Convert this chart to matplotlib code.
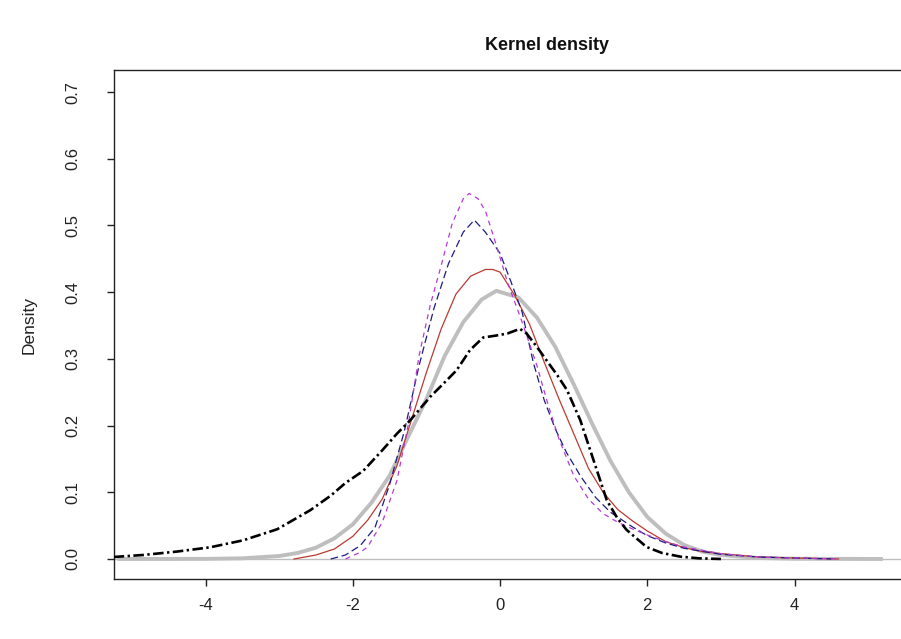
import matplotlib
matplotlib.use("Agg")
import matplotlib.pyplot as plt

# ---- data (x, density) ----
gray_x = [-5.2, -4.0, -3.5, -3.0, -2.75, -2.5, -2.25, -2.0, -1.75, -1.5, -1.25, -1.0, -0.75, -0.5, -0.25, -0.05,
          0.25, 0.5, 0.75, 1.0, 1.25, 1.5, 1.75, 2.0, 2.25, 2.5, 2.75, 3.0, 3.5, 4.0, 5.2]
gray_y = [0.0, 0.0002, 0.001, 0.0045, 0.009, 0.017, 0.031, 0.052, 0.084, 0.125, 0.183, 0.240, 0.305, 0.355, 0.389, 0.402,
          0.392, 0.362, 0.318, 0.262, 0.203, 0.147, 0.100, 0.063, 0.038, 0.021, 0.011, 0.006, 0.0015, 0.0004, 0.0]

red_x = [-2.8, -2.5, -2.25, -2.0, -1.8, -1.6, -1.4, -1.2, -1.0, -0.8, -0.6, -0.4, -0.2, -0.1, 0.0, 0.2, 0.4, 0.6,
         0.8, 1.0, 1.2, 1.4, 1.6, 1.8, 2.0, 2.25, 2.5, 2.75, 3.0, 3.5, 4.0, 4.6]
red_y = [0.0, 0.006, 0.015, 0.034, 0.058, 0.090, 0.140, 0.210, 0.280, 0.345, 0.397, 0.424, 0.434, 0.434, 0.430, 0.395,
         0.352, 0.295, 0.240, 0.188, 0.136, 0.100, 0.074, 0.057, 0.042, 0.026, 0.017, 0.011, 0.008, 0.003, 0.0015, 0.0]

blue_x = [-2.3, -2.1, -1.9, -1.7, -1.5, -1.3, -1.1, -0.9, -0.7, -0.5, -0.35, -0.2, 0.0, 0.15, 0.3, 0.45, 0.6, 0.75,
          0.9, 1.1, 1.3, 1.5, 1.8, 2.0, 2.25, 2.5, 3.0, 3.5, 4.5]
blue_y = [0.0, 0.006, 0.020, 0.047, 0.112, 0.192, 0.290, 0.375, 0.443, 0.490, 0.508, 0.490, 0.458, 0.415, 0.370, 0.295,
          0.238, 0.195, 0.160, 0.123, 0.092, 0.070, 0.048, 0.035, 0.024, 0.016, 0.007, 0.003, 0.0]

purple_x = [-2.1, -1.9, -1.8, -1.6, -1.4, -1.25, -1.1, -0.95, -0.8, -0.65, -0.5, -0.42, -0.3, -0.2, -0.05, 0.1, 0.3,
            0.5, 0.65, 0.8, 1.0, 1.2, 1.4, 1.6, 1.8, 2.0, 2.25, 2.5, 3.0, 3.5, 4.0, 4.6]
purple_y = [0.0, 0.010, 0.018, 0.055, 0.118, 0.200, 0.305, 0.380, 0.440, 0.503, 0.540, 0.548, 0.540, 0.522, 0.470,
            0.415, 0.355, 0.290, 0.232, 0.180, 0.125, 0.090, 0.068, 0.055, 0.045, 0.036, 0.026, 0.018, 0.008, 0.003,
            0.0015, 0.0]

black_x = [-5.25, -4.85, -4.4, -3.94, -3.49, -3.03, -2.58, -2.3, -2.1, -1.86, -1.6, -1.4, -1.22, -0.95, -0.75, -0.59,
           -0.41, -0.23, -0.05, 0.1, 0.27, 0.36, 0.5, 0.63, 0.78, 0.91, 1.09, 1.27, 1.45, 1.6, 1.72, 1.99, 2.2, 2.45,
           2.7, 3.0]
black_y = [0.003, 0.006, 0.011, 0.0175, 0.028, 0.0445, 0.073, 0.095, 0.114, 0.132, 0.163, 0.188, 0.208, 0.243, 0.265,
           0.283, 0.313, 0.332, 0.335, 0.338, 0.345, 0.338, 0.318, 0.298, 0.275, 0.253, 0.208, 0.148, 0.088, 0.060,
           0.0435, 0.018, 0.009, 0.0035, 0.001, 0.0]

x_ticks = [-4, -2, 0, 2, 4]
y_ticks = [0.0, 0.1, 0.2, 0.3, 0.4, 0.5, 0.6, 0.7]

# ---- figure ----
plt.rcParams['font.family'] = ['Liberation Sans', 'DejaVu Sans']
W, H = 901, 639
fig = plt.figure(figsize=(W / 100, H / 100), dpi=100)
ax_left, ax_right, ax_top, ax_bottom = 114, 980, 70, 579
ax = fig.add_axes([ax_left / W, 1 - ax_bottom / H, (ax_right - ax_left) / W, (ax_bottom - ax_top) / H])

ax.set_xlim(-5.245, 6.52)
ax.set_ylim(-0.030, 0.733)

ax.axhline(0, color='#bebebe', lw=1.0, zorder=1)
ax.plot(gray_x, gray_y, color='#bebebe', lw=2.8, solid_capstyle='butt', zorder=2)
ax.plot(red_x, red_y, color='#bb3a30', lw=0.9, zorder=3)
ax.plot(blue_x, blue_y, color='#1c1c80', lw=0.9, dashes=(6, 3), zorder=4)
ax.plot(purple_x, purple_y, color='#b63ad8', lw=0.9, dashes=(4, 3.5), zorder=5)
ax.plot(black_x, black_y, color='black', lw=1.9, dashes=(4, 1.3, 0.9, 1.3), zorder=6)

for s in ['left', 'bottom', 'top', 'right']:
    ax.spines[s].set_linewidth(1.0)
    ax.spines[s].set_color('#222222')

ax.set_xticks(x_ticks)
ax.set_xticklabels([f"{t:d}" for t in x_ticks])
ax.set_yticks(y_ticks)
ax.set_yticklabels([f"{t:.1f}" for t in y_ticks], rotation=90, va='center')
ax.tick_params(axis='both', direction='out', length=5, width=1.0, colors='#222222', labelsize=12, labelcolor='#222222')
ax.tick_params(axis='x', pad=9)
ax.tick_params(axis='y', pad=19)

ax.set_ylabel('Density', fontsize=12.5, color='#222222')
ax.yaxis.set_label_coords((37 - ax_left) / (ax_right - ax_left), 0.5)

fig.text(547 / W, 1 - 46 / H, 'Kernel density', ha='center', va='center', fontsize=13, fontweight='bold',
         color='#111111')

fig.savefig('out.png', dpi=100)
